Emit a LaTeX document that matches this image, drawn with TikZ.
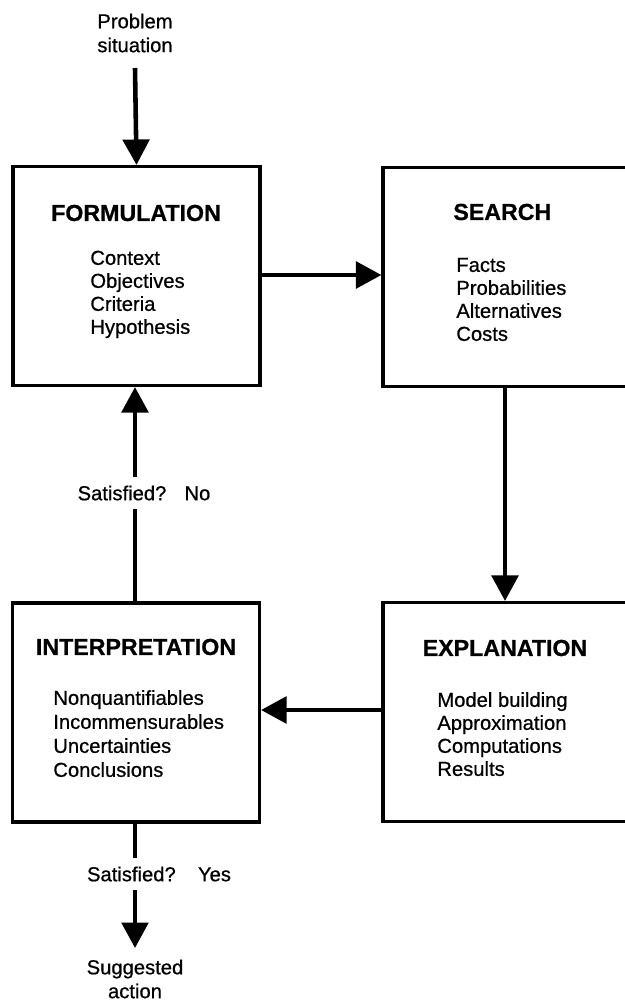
\documentclass[tikz,border=0pt]{standalone}
\usepackage{fontspec}
\setmainfont{Liberation Sans}[FakeBold=0.7]
\usetikzlibrary{arrows.meta}

\begin{document}
\begin{tikzpicture}[x=0.02cm,y=-0.02cm,
  stage/.style={draw=black,line width=1.8pt,minimum width=4.94cm,minimum height=4.38cm,inner sep=0pt},
  title/.style={font=\fontsize{13.2}{15}\selectfont\bfseries,inner sep=0pt},
  item/.style={font=\fontsize{11.5}{13}\selectfont,inner sep=0pt,anchor=west,text height=8pt,text depth=2.5pt},
  flow/.style={line width=2.6pt,-{Triangle[width=15pt,length=14.5pt]}},
  tag/.style={font=\fontsize{11.5}{13.6}\selectfont,align=center,inner sep=0pt},
  cond/.style={font=\fontsize{11.5}{13}\selectfont,fill=white,inner xsep=1pt,inner ysep=5pt}]

\useasboundingbox (0,0) rectangle (625,1000);

% the four stages of the cycle
\node[stage] (form)  at (136.5,276) {};
\node[stage,minimum width=5.1cm] (srch)  at (510.5,277) {};
\node[stage,minimum width=5.1cm] (expl)  at (510.5,712) {};
\node[stage] (intp)  at (136,712.5) {};

% stage headings
\node[title] (formT) at (136,213) {FORMULATION};
\node[title,anchor=west] (srchT) at (453,212) {SEARCH};
\node[title] (explT) at (505,648) {EXPLANATION};
\node[title] (intpT) at (136,647) {INTERPRETATION};

% stage contents
\foreach \t [count=\i] in {Context,Objectives,Criteria,Hypothesis}
  \node[item] (form\i) at (90,{237+23*\i}) {\t};
\foreach \t [count=\i] in {Facts,Probabilities,Alternatives,Costs}
  \node[item] (srch\i) at (456,{244+23*\i}) {\t};
\foreach \t [count=\i] in {Model building,Approximation,Computations,Results}
  \node[item] (expl\i) at (437,{679+23*\i}) {\t};
\foreach \t [count=\i] in {Nonquantifiables,Incommensurables,Uncertainties,Conclusions}
  \node[item] (intp\i) at (53,{676+24*\i}) {\t};

% entry and exit
\node[tag] (prob) at (135,33) {Problem\\situation};
\node[tag] (sugg) at (135,979) {Suggested\\action};
\coordinate (start) at (135,68);
\coordinate (tip) at (135,948);

% connectors
\draw[flow] (start) -- (form.north);
\draw[flow] (form.east |- 0,275) -- (srch.west |- 0,275);
\draw[flow] (srch.south -| 505,0) -- (expl.north -| 505,0);
\draw[flow] (expl.west |- 0,710) -- (intp.east |- 0,710);
\draw[flow] (intp.north -| 135,0) -- (form.south -| 135,0);
\draw[flow] (intp.south -| 135,0) -- (tip);

% decisions written across the connectors
\node[cond] (no)  at (144,493) {Satisfied?\hspace{0.9em}No};
\node[cond] (yes) at (159,874) {Satisfied?\hspace{1.1em}Yes};

\end{tikzpicture}
\end{document}
